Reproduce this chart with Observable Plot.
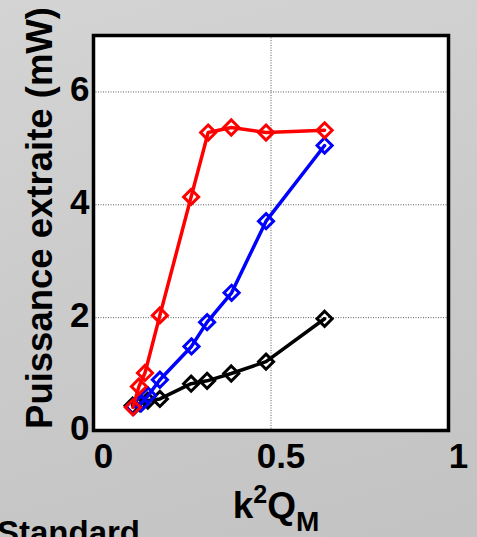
<!DOCTYPE html>
<html><head><meta charset="utf-8">
<script src="https://cdn.jsdelivr.net/npm/d3@7"></script>
<script src="https://cdn.jsdelivr.net/npm/@observablehq/plot@0.6"></script>
<style>
html,body{margin:0;padding:0;width:477px;height:537px;overflow:hidden;
background:linear-gradient(165deg,#d4d4d4 0%,#cacaca 55%,#c3c3c3 100%);}
svg{display:block;}
</style></head><body><div id="chart"></div>
<script>
// Data
const xRed   = [0.111, 0.128, 0.145, 0.187, 0.275, 0.323, 0.388, 0.486, 0.651];
const yRed   = [0.41, 0.78, 1.02, 2.04, 4.14, 5.28, 5.37, 5.28, 5.32];
const xBlue  = [0.113, 0.134, 0.154, 0.187, 0.276, 0.320, 0.389, 0.486, 0.651];
const yBlue  = [0.42, 0.48, 0.62, 0.90, 1.49, 1.92, 2.44, 3.71, 5.05];
const xBlack = [0.110, 0.131, 0.153, 0.187, 0.275, 0.320, 0.388, 0.486, 0.651];
const yBlack = [0.44, 0.48, 0.53, 0.56, 0.83, 0.88, 1.01, 1.22, 1.98];
const xTicks = [0, 0.5, 1];
const yTicks = [0, 2, 4, 6];
const yLabel = "Puissance extraite (mW)";
const legendText = "Standard";

const series = [
  {name: "black", color: "#000000", x: xBlack, y: yBlack},
  {name: "blue",  color: "#0000ff", x: xBlue,  y: yBlue},
  {name: "red",   color: "#ff0000", x: xRed,   y: yRed}
];
const rows = series.flatMap(s => s.x.map((x, i) => ({series: s.name, color: s.color, x, y: s.y[i]})));

const font = "'Liberation Sans', Arial, Helvetica, sans-serif";
const marks = [
  Plot.frame({fill: "white"}),
  Plot.gridX([0.5], {stroke: "#333", strokeOpacity: 1, strokeWidth: 0.8, strokeDasharray: "1,1.5"}),
  Plot.gridY([2, 4, 6], {stroke: "#333", strokeOpacity: 1, strokeWidth: 0.8, strokeDasharray: "1,1.5"}),
];
for (const s of series) {
  const d = rows.filter(r => r.series === s.name);
  marks.push(Plot.line(d, {x: "x", y: "y", stroke: s.color, strokeWidth: 3.5}));
  marks.push(Plot.dot(d, {x: "x", y: "y", symbol: "diamond2", r: 6.8, stroke: s.color, strokeWidth: 3, fill: "none"}));
}
marks.push(
  Plot.frame({stroke: "black", strokeWidth: 3.5}),
  Plot.axisX(xTicks, {tickSize: 0, tickPadding: 13, dx: 10, fontSize: 35, fontWeight: "bold", fill: "black", tickFormat: d => String(d), label: null}),
  Plot.axisY(yTicks, {tickSize: 0, tickPadding: 4, dy: -2, fontSize: 35, fontWeight: "bold", fill: "black", tickFormat: d => String(d), label: null}),
  Plot.text([yLabel], {frameAnchor: "left", text: d => d, rotate: -90, dx: -53, dy: -15, fontSize: 36.5, fontWeight: "bold", fill: "black", textAnchor: "middle", lineAnchor: "middle"})
);

const chart = Plot.plot({
  width: 477, height: 537,
  marginLeft: 93, marginRight: 29, marginTop: 35, marginBottom: 107,
  style: {background: "transparent", fontFamily: font, color: "black"},
  x: {domain: [0, 1]},
  y: {domain: [0, 7]},
  marks
});

// x-axis label with superscript/subscript, and cut-off legend text
const svg = d3.select(chart);
const xl = svg.append("text")
  .attr("x", 276).attr("y", 518)
  .attr("text-anchor", "middle")
  .attr("font-family", font).attr("font-weight", "bold").attr("font-size", 37).attr("fill", "black");
xl.append("tspan").text("k");
xl.append("tspan").attr("font-size", 25).attr("dy", -15).text("2");
xl.append("tspan").attr("dy", 15).text("Q");
xl.append("tspan").attr("font-size", 28).attr("dy", 13).text("M");

svg.append("text")
  .attr("x", -3).attr("y", 544)
  .attr("text-anchor", "start")
  .attr("font-family", font).attr("font-weight", "bold").attr("font-size", 33).attr("fill", "black")
  .text(legendText);

document.getElementById("chart").appendChild(chart);
</script></body></html>
